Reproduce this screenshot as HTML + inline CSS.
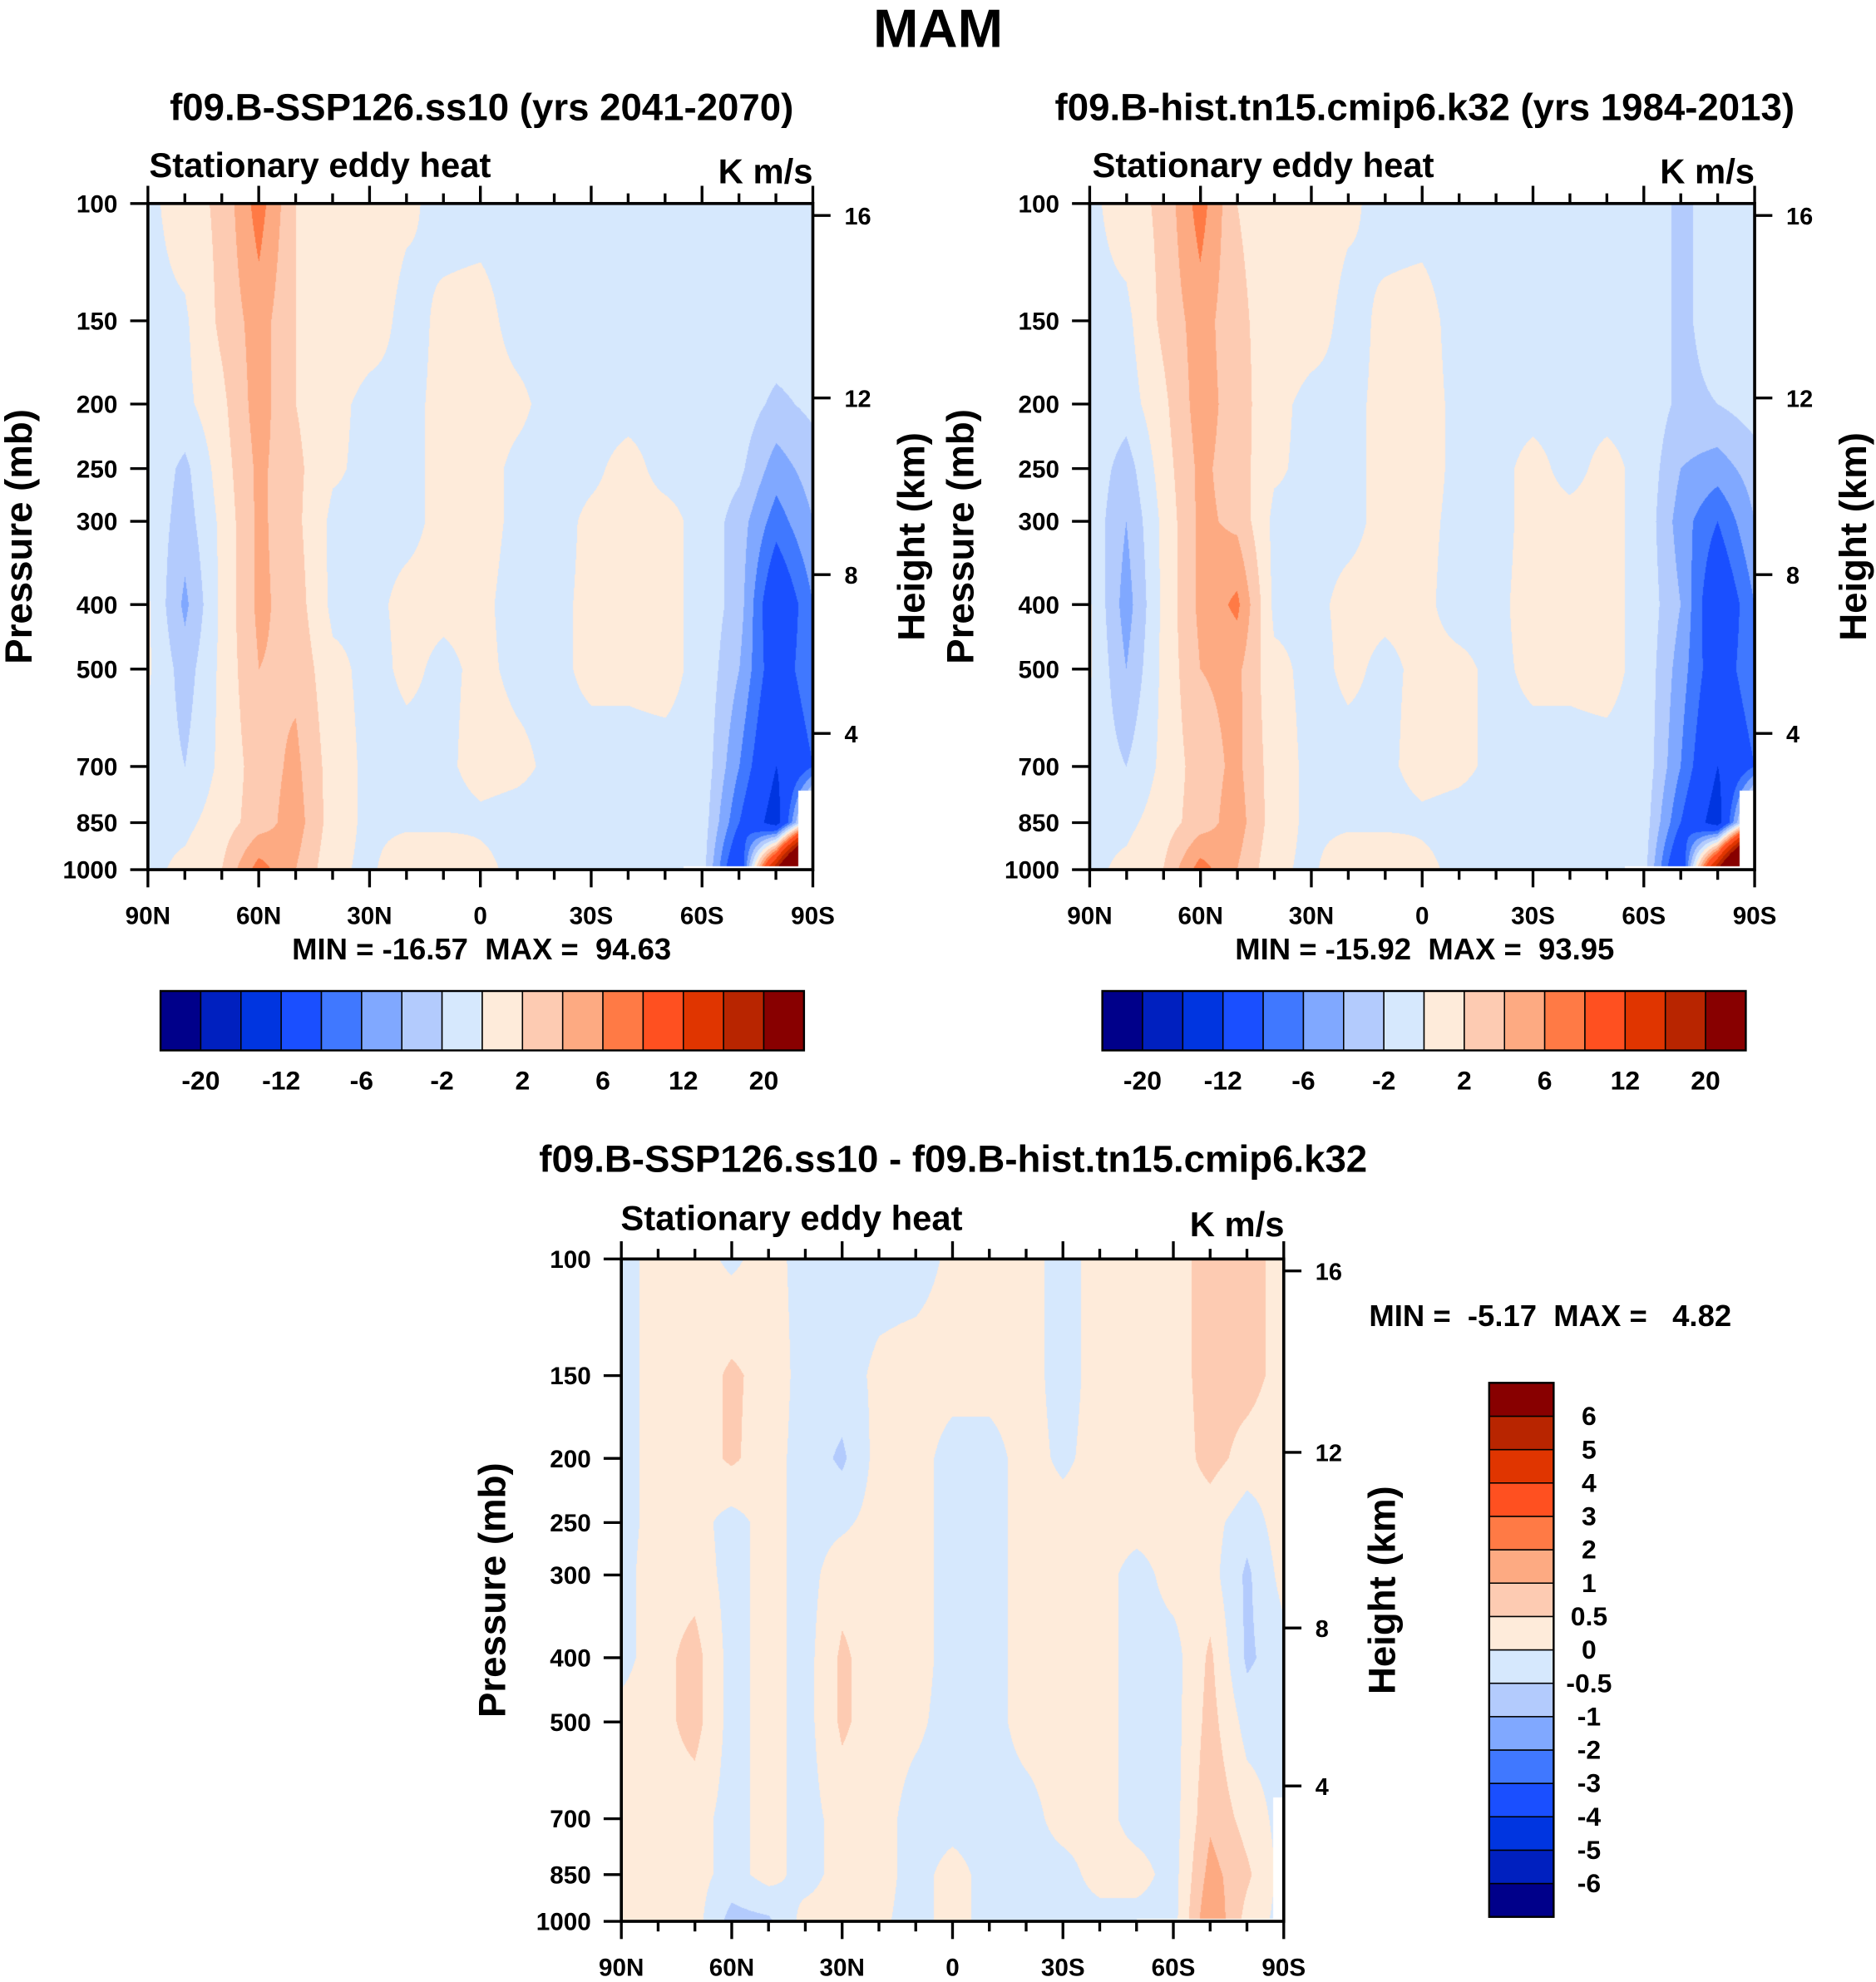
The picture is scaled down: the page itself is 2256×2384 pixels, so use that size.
<!DOCTYPE html>
<html><head><meta charset="utf-8"><title>MAM Stationary eddy heat</title>
<style>
html,body{margin:0;padding:0;background:#fff;}
#page{position:relative;width:2256px;height:2384px;background:#fff;overflow:hidden;}
canvas{position:absolute;}
svg{position:absolute;left:0;top:0;}
text{font-family:"Liberation Sans",Arial,sans-serif;font-weight:bold;fill:#000;}
</style></head>
<body>
<div id="page">
<svg id="svg" viewBox="0 0 1484 1568" width="2256" height="2384" preserveAspectRatio="none">
  <text x="742" y="37" font-size="43" text-anchor="middle">MAM</text>
  <text x="381" y="95" font-size="30" text-anchor="middle">f09.B-SSP126.ss10 (yrs 2041-2070)</text>
  <text x="1127" y="95" font-size="30" text-anchor="middle">f09.B-hist.tn15.cmip6.k32 (yrs 1984-2013)</text>
  <text x="754" y="927" font-size="30" text-anchor="middle">f09.B-SSP126.ss10 - f09.B-hist.tn15.cmip6.k32</text>
  <text x="118" y="140" font-size="27.5">Stationary eddy heat</text>
  <text x="643" y="145" font-size="27.5" text-anchor="end">K m/s</text>
  <text x="864" y="140" font-size="27.5">Stationary eddy heat</text>
  <text x="1388" y="145" font-size="27.5" text-anchor="end">K m/s</text>
  <text x="491" y="973" font-size="27.5">Stationary eddy heat</text>
  <text x="1016" y="978" font-size="27.5" text-anchor="end">K m/s</text>
  <text x="381" y="759" font-size="24" text-anchor="middle" xml:space="preserve">MIN = -16.57  MAX =  94.63</text>
  <text x="1127" y="759" font-size="24" text-anchor="middle" xml:space="preserve">MIN = -15.92  MAX =  93.95</text>
  <text x="1083" y="1049" font-size="24" xml:space="preserve">MIN =  -5.17  MAX =   4.82</text>
  <g id="axes"></g>
</svg>
</div>
<script>
const SX = 2256/1484, SY = 2384/1568;
const lats = [90,80,70,60,50,40,30,20,10,0,-10,-20,-30,-40,-50,-60,-70,-80,-90];
const levels = [100,150,200,250,300,400,500,700,850,1000];
const pLabels = ['100','150','200','250','300','400','500','700','850','1000'];
const hLabels = [16,12,8,4];
const xTickLats = [90,60,30,0,-30,-60,-90];
const xTickLabels = ['90N','60N','30N','0','30S','60S','90S'];
const colors = ['#00008a','#0020bf','#0035e0','#1a4fff','#4078ff','#80a8ff','#b3cbfd','#d6e8fd','#feebda','#fdcbb2','#fdaa82','#ff7a45','#ff5020','#e03500','#b82500','#880000'];
const boundsAbs = [-20,-16,-12,-8,-6,-4,-2,0,2,4,6,8,12,16,20];
const cbAbsLabels = ['-20','','-12','','-6','','-2','','2','','6','','12','','20'];
const boundsDiff = [-6,-5,-4,-3,-2,-1,-0.5,0,0.5,1,2,3,4,5,6];
const cbDiffLabels = ['-6','-5','-4','-3','-2','-1','-0.5','0','0.5','1','2','3','4','5','6'];

// Panel 1: SSP126 (rows = pressure levels, cols = lats 90N..90S)
const ssp100 = [-0.5,1,2.5,7,2,1,0.8,0.3,-0.5,-0.5,-0.5,-0.5,-0.5,-0.5,-0.5,-0.5,-0.5,-0.5,-0.5];
const ssp150 = [-0.5,-0.3,2.5,5,2,1,0.8,-0.5,0.3,0.5,-0.5,-0.5,-0.5,-0.5,-0.5,-0.5,-0.5,-0.5,-0.5];
const ssp200 = [-0.5,-0.5,1.5,5,2,0.5,-0.5,-0.3,0.3,0.5,0.3,-0.5,-0.5,-0.5,-0.5,-0.5,-0.8,-2.5,-1.5];
const ssp250 = [-0.5,-2.5,1,4.5,2.5,0.3,-0.5,-0.3,0.3,0.5,-0.3,-0.5,-0.3,0.5,-0.5,-0.5,-1.5,-5,-3];
const ssp300 = [-0.5,-3,0.5,4.5,2.5,-0.5,-0.3,-0.3,0.3,0.5,-0.3,-0.5,0.3,0.5,0.5,-0.5,-3,-7,-4];
const ssp400 = [0.3,-4.5,0.5,4.5,3,-0.5,-0.3,0.3,0.3,0.3,-0.5,-0.3,0.3,0.5,0.5,-0.5,-3,-11,-6];
const ssp500 = [0.3,-3,0.5,4,3.5,0.5,-0.5,0.3,-0.3,0.3,-0.3,-0.3,0.3,0.3,0.5,-0.5,-4,-10,-6];
const ssp700 = [-0.5,-2,0.5,3,4.5,1,-0.5,-0.5,-0.3,0.5,0.3,-0.3,-0.5,-0.5,-0.5,-0.5,-6,-12,-8];
const ssp850 = [-0.5,-0.5,1,3,5,1,-0.5,-0.5,-0.5,-0.3,-0.5,-0.5,-0.5,-0.5,-0.5,-0.8,-8,-14,5];
const ssp1000 = [-0.5,0.5,2,7,4,0.5,-0.5,2,2,0.5,-0.5,-0.5,-1,-0.5,-0.5,-1,-12,20,60];

// Panel 2: historical
const hist100 = [-0.5,1,2.5,7,2,1,0.8,0.3,-0.5,-0.5,-0.5,-0.5,-0.5,-0.5,-0.5,-0.5,-2.5,-1,-0.5];
const hist150 = [-0.5,-0.5,2.5,5,2.5,1,0.8,-0.5,0.3,0.5,-0.5,-0.5,-0.5,-0.5,-0.5,-0.5,-2.5,-1,-0.5];
const hist200 = [-0.5,-1,1.5,5,3,0.5,-0.5,-0.3,0.3,0.5,-0.3,-0.5,-0.5,-0.5,-0.5,-0.5,-2.5,-2,-1];
const hist250 = [-0.5,-3,1,4.5,3,0.3,-0.5,-0.3,0.3,0.5,-0.3,-0.5,0.5,-0.5,0.5,-0.5,-4,-5,-3];
const hist300 = [-0.5,-4,0.5,4.5,3.5,-0.5,-0.3,-0.3,0.3,0.3,-0.3,-0.5,0.5,0.5,0.5,-0.5,-5,-8,-4];
const hist400 = [0.3,-5,0.5,4.5,6.5,-0.5,-0.3,0.3,0.3,0.3,-0.5,-0.3,0.5,0.5,0.5,-0.5,-4,-11,-6];
const hist500 = [0.3,-4,0.5,4,4.5,0.5,-0.5,0.3,-0.3,0.3,0.3,-0.3,0.3,0.3,0.5,-0.5,-5,-10,-6];
const hist700 = [-0.5,-2,0.5,3,4.5,1,-0.5,-0.5,-0.3,0.5,0.3,-0.3,-0.5,-0.5,-0.5,-0.5,-6,-12,-8];
const hist850 = [-0.5,-0.5,1,3,5,1,-0.5,-0.5,-0.5,-0.3,-0.5,-0.5,-0.5,-0.5,-0.5,-0.8,-8,-14,5];
const hist1000 = [-0.5,0.5,2,7,4,0.5,-0.5,2,2,0.5,-0.5,-0.5,-1,-0.5,-0.5,-1,-12,20,60];

// Panel 3: difference
const diff100 = [-0.2,0.2,0.2,-0.1,0.2,-0.2,-0.2,-0.2,-0.2,0.1,0.2,0.2,-0.2,0.2,0.2,0.3,0.7,0.7,0.3];
const diff150 = [-0.2,0.2,0.2,0.6,0.3,-0.2,-0.2,0.1,0.2,0.2,0.2,0.2,-0.2,0.2,0.2,0.3,0.7,0.7,0.3];
const diff200 = [-0.2,0.2,0.2,0.6,0.2,-0.2,-0.6,0.2,0.2,-0.2,-0.2,0.2,-0.1,0.2,0.2,0.2,0.7,0.3,0.2];
const diff250 = [-0.2,0.2,0.2,-0.2,0.2,-0.2,-0.1,0.2,0.2,-0.2,-0.2,0.2,0.2,0.2,0.2,0.2,0.2,-0.3,0.3];
const diff300 = [-0.2,0.3,0.3,-0.2,0.2,-0.2,0.3,0.3,0.2,-0.2,-0.2,0.2,0.2,0.2,-0.2,0.2,0.2,-0.6,0.2];
const diff400 = [-0.2,0.3,0.7,-0.2,0.2,-0.2,0.6,0.2,0.2,-0.2,-0.2,0.2,0.2,0.2,-0.2,-0.2,0.6,-0.6,-0.2];
const diff500 = [0.2,0.3,0.7,-0.2,0.2,-0.2,0.6,0.2,0.1,-0.2,-0.2,0.2,0.2,0.2,-0.2,-0.2,0.7,-0.2,-0.2];
const diff700 = [0.2,0.3,0.2,-0.2,0.2,-0.2,0.2,0.2,-0.2,-0.2,-0.2,-0.2,0.2,0.2,-0.2,-0.2,0.9,0.3,-0.2];
const diff850 = [0.2,0.3,0.2,-0.2,0.2,-0.2,0.2,0.2,-0.2,0.2,-0.2,-0.2,-0.2,0.2,0.2,-0.2,1.2,0.6,-0.2];
const diff1000 = [0.2,0.2,0.2,-0.7,-0.6,0.2,0.2,0.1,-0.2,0.2,-0.2,-0.2,-0.2,-0.2,-0.2,-0.2,1.5,0.3,-0.2];

const sspRows = [ssp100,ssp150,ssp200,ssp250,ssp300,ssp400,ssp500,ssp700,ssp850,ssp1000];
const histRows = [hist100,hist150,hist200,hist250,hist300,hist400,hist500,hist700,hist850,hist1000];
const diffRows = [diff100,diff150,diff200,diff250,diff300,diff400,diff500,diff700,diff850,diff1000];

const NS = 'http://www.w3.org/2000/svg';
const axes = document.getElementById('axes');
const page = document.getElementById('page');

function heightToP(hkm){
  const h = hkm*1000;
  if (h <= 11000) return 1013.25*Math.pow(1-2.25577e-5*h,5.25588);
  return 226.32*Math.exp(-(h-11000)/6341.6);
}

function mk(tag, attrs, parent){
  const e = document.createElementNS(NS, tag);
  for (const k in attrs) e.setAttribute(k, attrs[k]);
  (parent||axes).appendChild(e);
  return e;
}

function drawPanel(id, box, rows, bounds, maskFn){
  const xScale = lat => box.x + (90-lat)/180*box.w;
  const yScale = p => box.y + (Math.log10(p)-2)*box.h;
  const cv = document.createElement('canvas');
  
  
  const W = Math.round(box.w*SX), H = Math.round(box.h*SY);
  cv.width = W; cv.height = H;
  cv.style.left = (box.x*SX)+'px'; cv.style.top = (box.y*SY)+'px';
  cv.style.width = W+'px'; cv.style.height = H+'px';
  page.insertBefore(cv, page.firstChild);
  const ctx = cv.getContext('2d');
  const img = ctx.createImageData(W,H);
  const rgb = colors.map(c=>[parseInt(c.substr(1,2),16),parseInt(c.substr(3,2),16),parseInt(c.substr(5,2),16)]);
  const rowLog = levels.map(p=>Math.log10(p));
  for (let py=0; py<H; py++){
    const logp = 2 + (py+0.5)/H;
    const p = Math.pow(10,logp);
    let i = 0;
    while (i < rowLog.length-2 && logp > rowLog[i+1]) i++;
    let ty = (logp-rowLog[i])/(rowLog[i+1]-rowLog[i]);
    ty = Math.max(0,Math.min(1,ty));
    for (let px=0; px<W; px++){
      const f = (px+0.5)/W*18;
      const lat = 90 - f*10;
      let o = (py*W+px)*4;
      if (maskFn(lat,p)){ img.data[o]=255; img.data[o+1]=255; img.data[o+2]=255; img.data[o+3]=255; continue; }
      let j = Math.min(17, Math.floor(f)); const tx = f-j;
      const a = rows[i][j]*(1-tx)+rows[i][j+1]*tx;
      const b = rows[i+1][j]*(1-tx)+rows[i+1][j+1]*tx;
      const v = a*(1-ty)+b*ty;
      let k = 0; while (k < bounds.length && v >= bounds[k]) k++;
      const c = rgb[k];
      img.data[o]=c[0]; img.data[o+1]=c[1]; img.data[o+2]=c[2]; img.data[o+3]=255;
    }
  }
  ctx.putImageData(img,0,0);

  const g = mk('g', {});
  
  
  const frame = mk('rect', {x:box.x, y:box.y, width:box.w, height:box.h, fill:'none', stroke:'#000', 'stroke-width':2.4}, g);
  
  
  for (let lat=90; lat>=-90; lat-=10){
    const x = xScale(lat);
    const len = (lat%30===0) ? 14 : 8;
    const t1 = mk('line', {x1:x, y1:box.y, x2:x, y2:box.y-len, stroke:'#000', 'stroke-width':2.2}, g);
    
    
    const t2 = mk('line', {x1:x, y1:box.y+box.h, x2:x, y2:box.y+box.h+len, stroke:'#000', 'stroke-width':2.2}, g);
    
    
  }
  xTickLats.forEach((lat,k)=>{
    const t = mk('text', {x:xScale(lat), y:box.y+box.h+43, 'font-size':19.5, 'text-anchor':'middle'}, g);
    t.textContent = xTickLabels[k];
    
    
  });
  levels.forEach((p,k)=>{
    const y = yScale(p);
    const l = mk('line', {x1:box.x, y1:y, x2:box.x-14, y2:y, stroke:'#000', 'stroke-width':2.2}, g);
    
    
    const t = mk('text', {x:box.x-24, y:y+7, 'font-size':19.5, 'text-anchor':'end'}, g);
    t.textContent = pLabels[k];
    
    
  });
  hLabels.forEach(hk=>{
    const y = yScale(heightToP(hk)) + 3;
    const l = mk('line', {x1:box.x+box.w, y1:y, x2:box.x+box.w+14, y2:y, stroke:'#000', 'stroke-width':2.2}, g);
    
    
    const t = mk('text', {x:box.x+box.w+25, y:y+7, 'font-size':19}, g);
    t.textContent = String(hk);
    
    
  });
  const cy = box.y + box.h/2;
  const yt = mk('text', {x:0, y:0, 'font-size':30, 'text-anchor':'middle', transform:`translate(${box.x-92},${cy}) rotate(-90)`}, g);
  yt.textContent = 'Pressure (mb)';
  
  
  const yr = mk('text', {x:0, y:0, 'font-size':30, 'text-anchor':'middle', transform:`translate(${box.x+box.w+88},${cy}) rotate(-90)`}, g);
  yr.textContent = 'Height (km)';
  
  
}

function hColorbar(id, x0, y0, w, h, labels){
  const g = mk('g', {});
  
  
  const bw = w/colors.length;
  colors.forEach((c,k)=>{
    const r = mk('rect', {x:x0+k*bw, y:y0, width:bw, height:h, fill:c, stroke:'#000', 'stroke-width':1}, g);
    
    
  });
  const fr = mk('rect', {x:x0, y:y0, width:w, height:h, fill:'none', stroke:'#000', 'stroke-width':1.6}, g);
  
  
  labels.forEach((lb,k)=>{
    if (!lb) return;
    const t = mk('text', {x:x0+(k+1)*bw, y:y0+h+31, 'font-size':21, 'text-anchor':'middle'}, g);
    t.textContent = lb;
    
    
  });
}

function vColorbar(id, x0, y0, w, h, labels){
  const g = mk('g', {});
  
  
  const bh = h/colors.length;
  colors.forEach((c,k)=>{
    const r = mk('rect', {x:x0, y:y0+h-(k+1)*bh, width:w, height:bh, fill:c, stroke:'#000', 'stroke-width':1}, g);
    
    
  });
  const fr = mk('rect', {x:x0, y:y0, width:w, height:h, fill:'none', stroke:'#000', 'stroke-width':1.6}, g);
  
  
  labels.forEach((lb,k)=>{
    const t = mk('text', {x:x0+w+28, y:y0+h-(k+1)*bh+7, 'font-size':21, 'text-anchor':'middle'}, g);
    t.textContent = lb;
    
    
  });
}

const maskAbs = (lat,p) => (lat < -86 && p > 760) || (lat < -55 && p > 988);
const maskDiff = (lat,p) => (lat < -87 && p > 650) || (lat < -50 && p > 990);

drawPanel('panel1', {x:117, y:161, w:526, h:527}, sspRows, boundsAbs, maskAbs);
drawPanel('panel2', {x:862, y:161, w:526, h:527}, histRows, boundsAbs, maskAbs);
drawPanel('panel3', {x:491.5, y:996, w:524, h:524}, diffRows, boundsDiff, maskDiff);
hColorbar('panel1-colorbar', 127, 784, 509, 47, cbAbsLabels);
hColorbar('panel2-colorbar', 872, 784, 509, 47, cbAbsLabels);
vColorbar('panel3-colorbar', 1178, 1094, 51, 422.5, cbDiffLabels);
</script>
</body></html>
